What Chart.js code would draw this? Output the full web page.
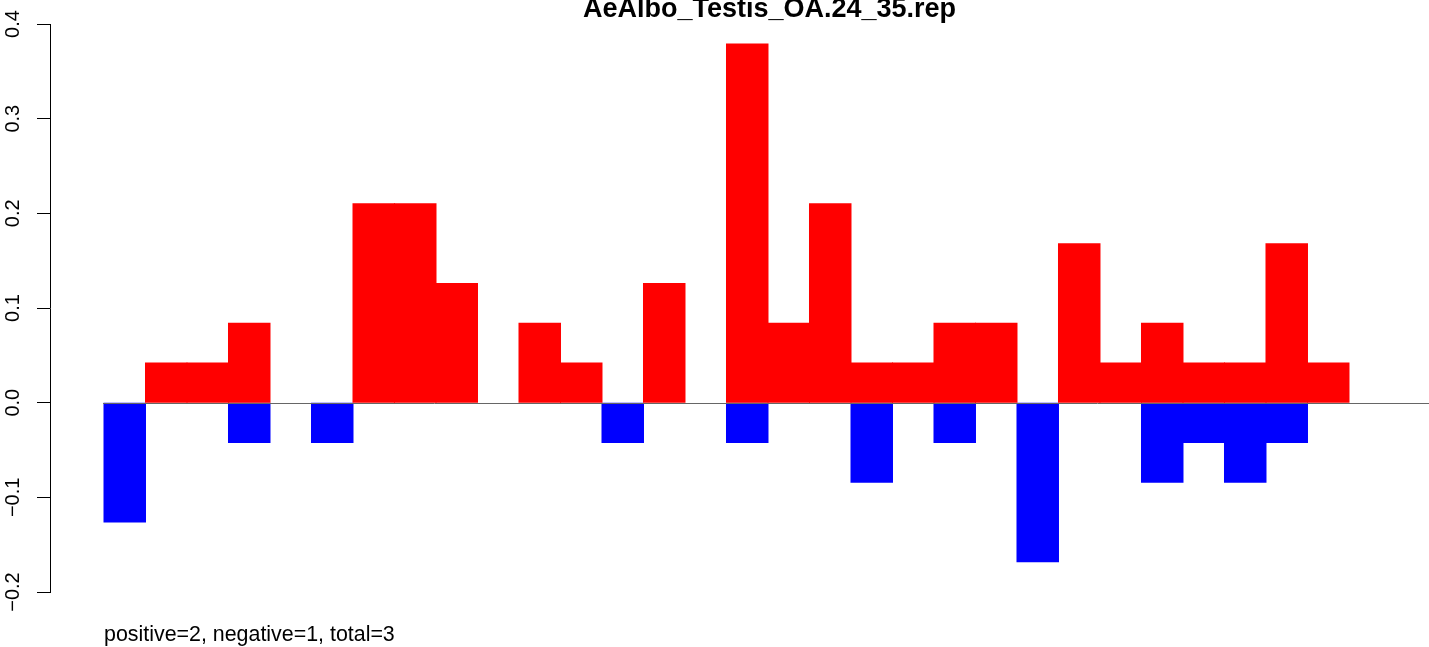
<!DOCTYPE html>
<html>
<head>
    <meta charset="utf-8">
    <title>AeAlbo_Testis_OA.24_35.rep</title>
    <script src="https://cdn.jsdelivr.net/npm/chart.js@4.4.1/dist/chart.umd.min.js"></script>
    <style>
        body { margin: 0; background: #fff; }
        canvas { display: block; }
    </style>
</head>
<body>
    <canvas id="myChart" width="1429" height="647"></canvas>
    <script>
        var titleText = "AeAlbo_Testis_OA.24_35.rep";
        var noteText = "positive=2, negative=1, total=3";
        var positions = [1, 2, 3, 4, 5, 6, 7, 8, 9, 10, 11, 12, 13, 14, 15,
            16, 17, 18, 19, 20, 21, 22, 23, 24, 25, 26, 27, 28, 29, 30];
        var positive = [0, 0.042, 0.042, 0.084, 0, 0, 0.21, 0.21, 0.126, 0,
            0.084, 0.042, 0, 0.126, 0, 0.379, 0.084, 0.21, 0.042, 0.042,
            0.084, 0.084, 0, 0.168, 0.042, 0.084, 0.042, 0.042, 0.168, 0.042];
        var negative = [-0.126, 0, 0, -0.042, 0, -0.042, 0, 0, 0, 0,
            0, 0, -0.042, 0, 0, -0.042, 0, 0, -0.084, 0,
            -0.042, 0, -0.168, 0, 0, -0.084, -0.042, -0.084, -0.042, 0];
        var yTicks = [-0.2, -0.1, 0.0, 0.1, 0.2, 0.3, 0.4];

        var fontName = "'Liberation Sans', Arial, Helvetica, sans-serif";

        // zero values get no bar at all
        function toPoints(vals) {
            return vals.map(function(v, i) { return { x: positions[i], y: v === 0 ? null : v }; });
        }

        // zero line, title and the note under the plot
        var extras = {
            id: "extras",
            afterDatasetsDraw: function(chart) {
                var ctx = chart.ctx;
                var xs = chart.scales.x, ys = chart.scales.y;
                var left = xs.getPixelForValue(positions[0] - 0.5);
                var y0 = Math.round(ys.getPixelForValue(0)) + 0.5;
                ctx.save();
                ctx.strokeStyle = "#666666";
                ctx.lineWidth = 1;
                ctx.beginPath();
                ctx.moveTo(left - 1, y0);
                ctx.lineTo(chart.chartArea.right, y0);
                ctx.stroke();

                ctx.fillStyle = "#000";
                ctx.textBaseline = "alphabetic";
                ctx.textAlign = "center";
                ctx.font = "bold 27px " + fontName;
                ctx.fillText(titleText, (left + chart.chartArea.right) / 2 + 3, 17);

                ctx.textAlign = "left";
                ctx.font = "21.4px " + fontName;
                ctx.fillText(noteText, left, 641);
                ctx.restore();
            }
        };

        var ctx = document.getElementById("myChart");
        var chart = new Chart(ctx, {
            type: "bar",
            data: {
                datasets: [{
                    label: "positive",
                    data: toPoints(positive),
                    backgroundColor: "rgb(255, 0, 0)",
                    borderWidth: 0,
                    inflateAmount: 0.5
                }, {
                    label: "negative",
                    data: toPoints(negative),
                    backgroundColor: "rgb(0, 0, 255)",
                    borderWidth: 0,
                    inflateAmount: 0.5
                }]
            },
            options: {
                responsive: false,
                animation: false,
                devicePixelRatio: 1,
                barPercentage: 1,
                categoryPercentage: 1,
                layout: { padding: { top: 24, bottom: 55, left: 0, right: 0 } },
                plugins: {
                    legend: { display: false },
                    title: { display: false },
                    tooltip: { enabled: false }
                },
                scales: {
                    x: {
                        type: "linear",
                        stacked: true,
                        offset: false,
                        min: -0.8012,
                        max: 32.428,
                        grid: { offset: false },
                        display: false
                    },
                    y: {
                        stacked: true,
                        min: -0.2,
                        max: 0.4,
                        afterFit: function(scale) { scale.width = 50; },
                        afterBuildTicks: function(scale) {
                            scale.ticks = yTicks.map(function(v) { return { value: v }; });
                        },
                        border: { display: true, color: "#000", width: 1 },
                        grid: {
                            drawOnChartArea: false,
                            drawTicks: true,
                            tickLength: 13,
                            tickColor: "#000",
                            tickWidth: 1
                        },
                        ticks: {
                            minRotation: 90,
                            maxRotation: 90,
                            crossAlign: "center",
                            padding: 4,
                            color: "#000",
                            font: { family: fontName, size: 20 },
                            callback: function(v) {
                                return (v < 0 ? "\u2212" : "") + Math.abs(v).toFixed(1);
                            }
                        }
                    }
                }
            },
            plugins: [extras]
        });
    </script>
</body>
</html>
